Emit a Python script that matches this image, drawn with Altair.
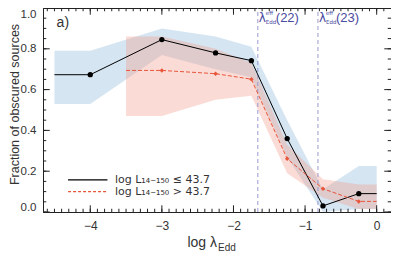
import altair as alt
import pandas as pd

# ---- data ----
blk_x = [-4.5, -4.0, -3.0, -2.25, -1.75, -1.25, -0.75, -0.25, 0.0]
blk_y = [0.673, 0.673, 0.845, 0.78, 0.742, 0.36, 0.03, 0.09, 0.09]
blk_hi = [0.79, 0.79, 0.90, 0.86, 0.81, 0.45, 0.11, 0.225, 0.225]
blk_lo = [0.53, 0.53, 0.77, 0.70, 0.66, 0.27, 0.0, 0.015, 0.015]
blk_pt = [False, True, True, True, True, True, True, True, False]

red_x = [-3.5, -3.0, -2.25, -1.75, -1.25, -0.75, -0.25, 0.0]
red_y = [0.694, 0.694, 0.678, 0.651, 0.261, 0.114, 0.052, 0.052]
red_hi = [0.86, 0.86, 0.80, 0.73, 0.33, 0.16, 0.135, 0.135]
red_lo = [0.47, 0.47, 0.55, 0.57, 0.19, 0.07, 0.015, 0.015]
red_pt = [False, True, True, True, True, True, True, False]

vlines = [-1.66, -0.82]
vlabels = ["(22)", "(23)"]

x_major = [-4, -3, -2, -1, 0]
y_major = [0.0, 0.2, 0.4, 0.6, 0.8, 1.0]
x_minor = [round(-4.6 + 0.1 * i, 2) for i in range(48)]
y_minor = [round(0.05 * i, 2) for i in range(21)]

XDOM = [-4.66, 0.2]
YDOM = [0.0, 1.0]

blk = pd.DataFrame({"x": blk_x, "y": blk_y, "hi": blk_hi, "lo": blk_lo, "pt": blk_pt})
red = pd.DataFrame({"x": red_x, "y": red_y, "hi": red_hi, "lo": red_lo, "pt": red_pt})

xs = alt.Scale(domain=XDOM, nice=False, zero=False)
ys = alt.Scale(domain=YDOM, nice=False, zero=False)

FONT = "Liberation Sans"
LFONT = "DejaVu Sans"
TXT = "#333333"

base_axis_x = alt.Axis(values=x_major, tickSize=0, domain=False, grid=False,
                       labelFont=FONT, labelFontSize=12, labelColor=TXT,
                       labelPadding=8, title=None, format="d")
base_axis_y = alt.Axis(values=y_major, tickSize=0, domain=False, grid=False,
                       labelFont=FONT, labelFontSize=11.5, labelColor=TXT,
                       labelPadding=7, format=".1f", labelFlush=True,
                       title="Fraction of obscured sources", titleFont=FONT,
                       titleFontSize=12.5, titleFontWeight="normal", titleColor=TXT,
                       titleX=-29, titleY=96, titleAngle=270,
                       titleBaseline="middle", titleAlign="center")

blue_band = alt.Chart(blk).mark_area(color="#8ab8dc", opacity=0.36).encode(
    x=alt.X("x:Q", scale=xs, axis=base_axis_x),
    y=alt.Y("lo:Q", scale=ys, axis=base_axis_y),
    y2="hi:Q",
)
red_band = alt.Chart(red).mark_area(color="#f29684", opacity=0.34).encode(
    x=alt.X("x:Q", scale=xs), y=alt.Y("lo:Q", scale=ys), y2="hi:Q"
)
blk_line = alt.Chart(blk).mark_line(color="black", strokeWidth=1).encode(
    x=alt.X("x:Q", scale=xs), y=alt.Y("y:Q", scale=ys)
)
blk_pts = alt.Chart(blk).transform_filter("datum.pt").mark_circle(
    color="black", size=28, opacity=1).encode(
    x=alt.X("x:Q", scale=xs), y=alt.Y("y:Q", scale=ys)
)
red_line = alt.Chart(red).mark_line(color="#e8553a", strokeWidth=1,
                                    strokeDash=[4, 2]).encode(
    x=alt.X("x:Q", scale=xs), y=alt.Y("y:Q", scale=ys)
)
red_pts = alt.Chart(red).transform_filter("datum.pt").mark_point(
    shape="diamond", filled=True, color="#e8553a", size=20, opacity=1).encode(
    x=alt.X("x:Q", scale=xs), y=alt.Y("y:Q", scale=ys)
)

# dashed vertical markers
vdf = pd.DataFrame({"x": vlines, "lab": vlabels})
vrule = alt.Chart(vdf).mark_rule(color="#9a9ad0", strokeDash=[4, 3],
                                 strokeWidth=1).encode(
    x=alt.X("x:Q", scale=xs), y=alt.datum(0.0), y2=alt.datum(1.0)
)
LBLC = "#4a4aa0"
YL = 0.951
lam = alt.Chart(vdf).mark_text(align="left", baseline="middle", dx=1,
                               fontSize=12, font=LFONT, color=LBLC, text="λ").encode(
    x=alt.X("x:Q", scale=xs), y=alt.datum(YL))
eff = alt.Chart(vdf).mark_text(align="left", baseline="middle", dx=8, dy=-5,
                               fontSize=5.5, font=LFONT, color=LBLC, text="eff").encode(
    x=alt.X("x:Q", scale=xs), y=alt.datum(YL))
edd = alt.Chart(vdf).mark_text(align="left", baseline="middle", dx=8, dy=4,
                               fontSize=5.5, font=LFONT, color=LBLC, text="Edd").encode(
    x=alt.X("x:Q", scale=xs), y=alt.datum(YL))
par = alt.Chart(vdf).mark_text(align="left", baseline="middle", dx=18, dy=0,
                               fontSize=13, font=FONT, color=LBLC).encode(
    x=alt.X("x:Q", scale=xs), y=alt.datum(YL), text="lab:N")

# panel label
panel = alt.Chart(pd.DataFrame({"x": [-4.47], "y": [0.925], "t": ["a)"]})).mark_text(
    align="left", baseline="middle", fontSize=14, font=FONT, color=TXT).encode(
    x=alt.X("x:Q", scale=xs), y=alt.Y("y:Q", scale=ys), text="t:N")

# legend
leg_lines = pd.DataFrame({
    "x": [-4.31, -4.31], "x2": [-3.76, -3.76], "y": [0.157, 0.10]})
leg_blk = alt.Chart(leg_lines.iloc[[0]]).mark_rule(color="black", strokeWidth=1.2).encode(
    x=alt.X("x:Q", scale=xs), x2="x2:Q", y=alt.Y("y:Q", scale=ys))
leg_red = alt.Chart(leg_lines.iloc[[1]]).mark_rule(color="#e8553a", strokeWidth=1.2,
                                                   strokeDash=[3, 2]).encode(
    x=alt.X("x:Q", scale=xs), x2="x2:Q", y=alt.Y("y:Q", scale=ys))
leg_txt = alt.Chart(pd.DataFrame({
    "x": [-3.655, -3.655], "y": [0.157, 0.10],
    "t": ["log L₁₄₋₁₅₀ ≤ 43.7", "log L₁₄₋₁₅₀ > 43.7"]})).mark_text(
    align="left", baseline="middle", fontSize=11, font=LFONT, color=TXT).encode(
    x=alt.X("x:Q", scale=xs), y=alt.Y("y:Q", scale=ys), text="t:N")

# x-axis title with subscript
xt_main = alt.Chart(pd.DataFrame({"x": [-2.23], "y": [-0.152]})).mark_text(
    align="right", baseline="middle", fontSize=14, font=FONT, color=TXT,
    text="log λ").encode(x=alt.X("x:Q", scale=xs), y=alt.Y("y:Q", scale=ys))
xt_sub = alt.Chart(pd.DataFrame({"x": [-2.23], "y": [-0.152]})).mark_text(
    align="left", baseline="middle", dy=5, dx=1, fontSize=10, font=FONT, color=TXT,
    text="Edd").encode(x=alt.X("x:Q", scale=xs), y=alt.Y("y:Q", scale=ys))

# inward ticks on all four sides
XSPAN = XDOM[1] - XDOM[0]
def tick_rows(vals, length_frac, axis):
    rows = []
    for v in vals:
        if axis == "x":
            if not (XDOM[0] < v < XDOM[1]):
                continue
            ly = (YDOM[1] - YDOM[0]) * length_frac
            rows.append({"x": v, "x2": v, "y": YDOM[0], "y2": YDOM[0] + ly})
            rows.append({"x": v, "x2": v, "y": YDOM[1], "y2": YDOM[1] - ly})
        else:
            lx = XSPAN * length_frac * 204 / 348
            rows.append({"x": XDOM[0], "x2": XDOM[0] + lx, "y": v, "y2": v})
            rows.append({"x": XDOM[1], "x2": XDOM[1] - lx, "y": v, "y2": v})
    return rows

ticks = pd.DataFrame(
    tick_rows(x_major, 0.033, "x") + tick_rows(x_minor, 0.016, "x")
    + tick_rows(y_major, 0.033, "y") + tick_rows(y_minor, 0.016, "y"))
tick_layer = alt.Chart(ticks).mark_rule(color="#222222", strokeWidth=1).encode(
    x=alt.X("x:Q", scale=xs), x2="x2:Q", y=alt.Y("y:Q", scale=ys), y2="y2:Q")

chart = alt.layer(
    blue_band, red_band, vrule, blk_line, red_line, blk_pts, red_pts,
    lam, eff, edd, par, panel, leg_blk, leg_red, leg_txt, xt_main, xt_sub,
    tick_layer,
).properties(
    width=348, height=204,
    autosize=alt.AutoSizeParams(type="none"),
    padding={"left": 35, "top": 0, "right": 0, "bottom": 40},
).configure_view(
    stroke="#222222", strokeWidth=1
)

chart.save("out.html", embed_options={"renderer": "svg", "actions": False})
